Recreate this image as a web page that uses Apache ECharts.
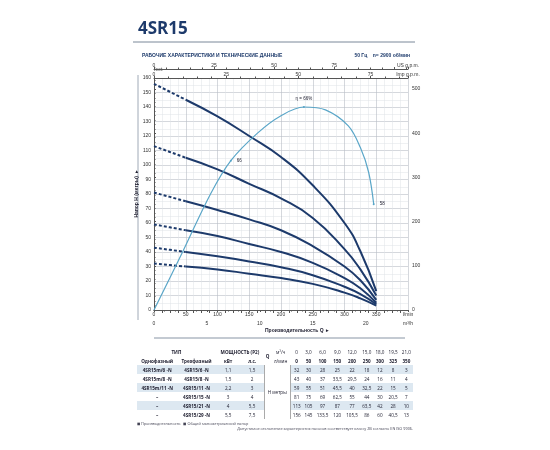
<!DOCTYPE html>
<html><head><meta charset="utf-8">
<script src="https://cdn.jsdelivr.net/npm/echarts@6/dist/echarts.min.js"></script>
<style>
body{margin:0;background:#fff;font-family:"Open Sans",sans-serif;}
#main{position:absolute;left:0;top:0;width:550px;height:450px;}
#tbl{position:absolute;left:137px;top:347px;width:276px;border-collapse:collapse;font-size:4.6px;color:#223;}
#tbl td{padding:0 1px;height:9px;text-align:center;white-space:nowrap;}
#tbl tr.s td.v{background:#dde8f1;}
#tbl .b{font-weight:bold;}
#notes{position:absolute;left:137px;top:421px;width:276px;font-size:3.8px;color:#445;}
</style></head><body>
<div id="main"></div>
<table id="tbl"></table>
<div id="notes"><span>◼ Производительность &nbsp; ◼ Общий манометрический напор</span><span style="float:right">Допустимое отклонение характеристик насосов соответствует классу 2В согласно EN ISO 9906.</span></div>
<script>
// данные
var qLmin = [0, 50, 100, 150, 200, 250, 300, 325, 350];
var qM3h = ['0', '3,0', '6,0', '9,0', '12,0', '15,0', '18,0', '19,5', '21,0'];
var models = ['4SR15/6-N', '4SR15/8-N', '4SR15/11-N', '4SR15/15-N', '4SR15/21-N', '4SR15/29-N'];
var mono = ['4SR15m/6 -N', '4SR15m/8 -N', '4SR15m/11 -N', '–', '–', '–'];
var tri = ['4SR15/6 -N', '4SR15/8 -N', '4SR15/11 -N', '4SR15/15 -N', '4SR15/21 -N', '4SR15/29 -N'];
var kw = ['1,1', '1,5', '2,2', '3', '4', '5,5'];
var hp = ['1,5', '2', '3', '4', '5,5', '7,5'];
var heads = [
    [32, 30, 28, 25, 22, 18, 12, 8, 3],
    [43, 40, 37, 33.5, 29.5, 24, 16, 11, 4],
    [59, 55, 51, 45.5, 40, 32.5, 22, 15, 5],
    [81, 75, 69, 62.5, 55, 44, 30, 20.5, 7],
    [113, 105, 97, 87, 77, 63.5, 42, 28, 10],
    [156, 145, 133.5, 120, 105.5, 86, 60, 40.5, 13]
];
// кривая КПД (в масштабе левой оси)
var effQ = [0, 45, 89, 121, 163, 200, 236, 270, 306, 325, 338, 346];
var effH = [0, 40, 80, 103, 122, 134, 140, 138, 127, 112, 95, 73];

var navy = '#1d3a6b', blue = '#5aa6c8';
var series = [];
models.forEach(function (m, k) {
    var pts = qLmin.map(function (q, i) { return [q, heads[k][i]]; });
    series.push({type: 'line', xAxisIndex: 0, yAxisIndex: 0, smooth: true, symbol: 'none',
        lineStyle: {color: navy, width: 2, type: [3, 2]}, data: pts.slice(0, 2)});
    var solid = pts.slice(1);
    solid[0] = {value: solid[0], label: {show: true, position: 'top', formatter: m,
        fontSize: 5, color: '#223', offset: [14, 0]}};
    series.push({type: 'line', xAxisIndex: 0, yAxisIndex: 0, smooth: true, symbol: 'none',
        showSymbol: true, symbolSize: 0, lineStyle: {color: navy, width: 2}, data: solid});
});
var eff = effQ.map(function (q, i) { return [q, effH[i]]; });
eff[3] = {value: eff[3], symbol: 'circle', symbolSize: 2, label: {show: true, formatter: '66', position: 'right', fontSize: 4.5, color: '#223'}};
eff[6] = {value: eff[6], symbol: 'circle', symbolSize: 2, label: {show: true, formatter: 'η = 66%', position: 'top', fontSize: 4.5, color: '#223'}};
eff[11] = {value: eff[11], symbol: 'circle', symbolSize: 2, label: {show: true, formatter: '58', position: 'right', fontSize: 4.5, color: '#223'}};
series.push({type: 'line', xAxisIndex: 0, yAxisIndex: 0, smooth: 0.35, symbol: 'none', showSymbol: true,
    lineStyle: {color: blue, width: 1.2}, itemStyle: {color: blue}, data: eff});

var lbl = {fontSize: 5, color: '#333'};
var chart = echarts.init(document.getElementById('main'));
chart.setOption({
    animation: false,
    grid: {left: 154, right: 142, top: 78, bottom: 140},
    title: [
        {text: '4SR15', left: 133, top: 16, textStyle: {fontSize: 17, fontWeight: 'bold', color: '#1d3a6b', fontFamily: 'Open Sans'}},
        {text: 'РАБОЧИЕ ХАРАКТЕРИСТИКИ И ТЕХНИЧЕСКИЕ ДАННЫЕ', left: 137, top: 48, textStyle: {fontSize: 5, fontWeight: 'bold', color: '#1d3a6b'}},
        {text: '50 Гц    n= 2900 об/мин', right: 135, top: 48, textStyle: {fontSize: 5, fontWeight: 'bold', color: '#1d3a6b'}}
    ],
    graphic: [
        {type: 'line', shape: {x1: 133, y1: 42, x2: 415, y2: 42}, style: {stroke: '#7a8899', lineWidth: 1}},
        {type: 'line', shape: {x1: 154, y1: 338, x2: 405, y2: 338}, style: {stroke: '#8895a5', lineWidth: 1}},
        {type: 'line', shape: {x1: 138, y1: 75, x2: 138, y2: 320}, style: {stroke: '#8895a5', lineWidth: 0.8}},
        {type: 'text', left: 265, top: 328, style: {text: 'Производительность Q  ▸', fontSize: 5, fill: '#223', fontWeight: 'bold'}}
    ],
    xAxis: [
        {type: 'value', min: 0, max: 400, interval: 50, position: 'bottom',
            axisLine: {lineStyle: {color: '#555'}}, axisTick: {length: 2},
            axisLabel: Object.assign({margin: 2, formatter: function (v) { return v === 400 ? 'l/min' : v; }}, lbl),
            splitLine: {lineStyle: {color: '#b9bec6', width: 0.6}},
            minorTick: {show: true, splitNumber: 4}, minorSplitLine: {show: true, lineStyle: {color: '#dfe2e6', width: 0.5}}},
        {type: 'value', min: 0, max: 24, interval: 5, position: 'bottom', offset: 9,
            axisLine: {lineStyle: {color: '#555'}}, axisTick: {length: 2},
            minorTick: {show: true, splitNumber: 5, length: 1.5},
            axisLabel: Object.assign({margin: 2, formatter: function (v) { return v === 24 ? 'm³/h' : v; }, showMaxLabel: true}, lbl),
            splitLine: {show: false}},
        {type: 'value', min: 0, max: 105.7, interval: 25, position: 'top', offset: 9,
            axisLine: {lineStyle: {color: '#555'}}, axisTick: {length: 2},
            minorTick: {show: true, splitNumber: 5, length: 1.5},
            axisLabel: Object.assign({margin: 1, formatter: function (v) { return v > 101 ? 'US g.p.m.' : v; }, showMaxLabel: true}, lbl),
            splitLine: {show: false}},
        {type: 'value', min: 0, max: 88, interval: 25, position: 'top', offset: 0,
            axisLine: {lineStyle: {color: '#555'}}, axisTick: {length: 2},
            minorTick: {show: true, splitNumber: 5, length: 1.5},
            axisLabel: Object.assign({margin: 1, formatter: function (v) { return v > 80 ? 'Imp g.p.m.' : v; }, showMaxLabel: true}, lbl),
            splitLine: {show: false}}
    ],
    yAxis: [
        {type: 'value', min: 0, max: 160, interval: 10, name: 'Напор H (метры)  ▸', nameLocation: 'middle', nameGap: 12,
            nameTextStyle: {fontSize: 5, fontWeight: 'bold', color: '#223'},
            axisLine: {show: true, lineStyle: {color: '#555'}}, axisTick: {show: false},
            axisLabel: Object.assign({margin: 3}, lbl),
            splitLine: {lineStyle: {color: '#b9bec6', width: 0.6}},
            minorSplitLine: {show: true, lineStyle: {color: '#dfe2e6', width: 0.5}}, minorTick: {splitNumber: 2}},
        {type: 'value', min: 0, max: 524.9, interval: 100, position: 'right', name: 'feet',
            nameGap: 2, nameTextStyle: {fontSize: 5, color: '#333', align: 'left'},
            axisLine: {show: true, lineStyle: {color: '#555'}}, axisTick: {length: 2},
            minorTick: {show: true, splitNumber: 10, length: 1.5},
            axisLabel: Object.assign({margin: 4, showMaxLabel: false}, lbl), splitLine: {show: false}}
    ],
    series: series
});

// таблица
var h = '<tr><td colspan=2 class=b>ТИП</td><td colspan=2 class=b>МОЩНОСТЬ (P2)</td><td rowspan=2 class=b>Q</td><td>м³/ч</td>';
qM3h.forEach(function (v) { h += '<td>' + v + '</td>'; });
h += '</tr><tr><td class=b>Однофазный</td><td class=b>Трехфазный</td><td class=b>кВт</td><td class=b>л.с.</td><td>л/мин</td>';
qLmin.forEach(function (v) { h += '<td class=b>' + v + '</td>'; });
h += '</tr>';
for (var k = 0; k < models.length; k++) {
    h += '<tr class="' + (k % 2 ? '' : 's') + '"><td class="b v">' + mono[k] + '</td><td class="b v">' + tri[k] + '</td><td class=v>' + kw[k] + '</td><td class=v>' + hp[k] + '</td>';
    if (k === 0) h += '<td rowspan=6 colspan=2 style="border-left:0.5px solid #aaa;border-right:0.5px solid #aaa">H метры</td>';
    heads[k].forEach(function (v) { h += '<td class=v>' + String(v).replace('.', ',') + '</td>'; });
    h += '</tr>';
}
document.getElementById('tbl').innerHTML = h;
</script>
</body></html>
